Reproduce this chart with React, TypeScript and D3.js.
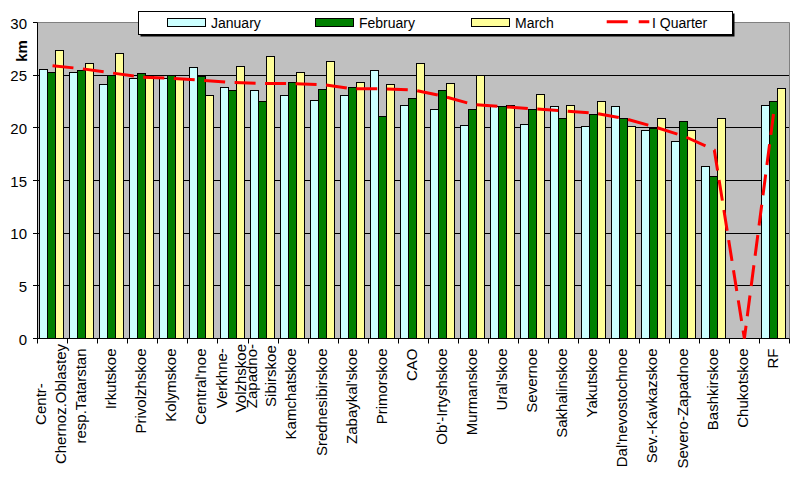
import React, { useEffect, useRef } from "react";
import * as d3 from "d3";

const categories = [
  "Centr-\nChernoz.Oblastey", "resp.Tatarstan", "Irkutskoe", "Privolzhskoe", "Kolymskoe",
  "Central'noe", "Verkhne-\nVolzhskoe", "Zapadno-\nSibirskoe", "Kamchatskoe", "Srednesibirskoe",
  "Zabaykal'skoe", "Primorskoe", "CAO", "Ob'-Irtyshskoe", "Murmanskoe",
  "Ural'skoe", "Severnoe", "Sakhalinskoe", "Yakutskoe", "Dal'nevostochnoe",
  "Sev.-Kavkazskoe", "Severo-Zapadnoe", "Bashkirskoe", "Chukotskoe", "RF",
];
const january = [25.5, 25.3, 24.1, 24.7, 24.7, 25.7, 23.8, 23.5, 23.1, 22.6, 23.1, 25.4, 22.1, 21.7, 20.2, 22.0, 20.3, 22.0, 20.1, 22.0, 19.7, 18.7, 16.3, 0, 22.1];
const february = [25.3, 25.4, 25.0, 25.2, 25.0, 24.9, 23.5, 22.5, 24.3, 23.6, 23.8, 21.1, 22.8, 23.5, 21.7, 22.0, 21.7, 20.9, 21.3, 20.9, 19.9, 20.6, 15.4, 0, 22.5];
const march = [27.3, 26.1, 27.1, 24.9, 24.6, 23.1, 25.8, 26.8, 25.3, 26.3, 24.3, 24.1, 26.1, 24.2, 25.0, 22.1, 23.2, 22.1, 22.5, 20.1, 20.9, 19.7, 20.9, 0, 23.7];
const quarter = [25.9, 25.6, 25.2, 24.8, 24.7, 24.5, 24.3, 24.2, 24.2, 24.1, 23.7, 23.7, 23.6, 23.0, 22.2, 22.0, 21.8, 21.6, 21.4, 20.9, 20.1, 19.2, 17.9, 0, 22.0];
const yTicks = [0, 5, 10, 15, 20, 25, 30];
const barSeriesNames = ["January", "February", "March"];
const lineSeriesName = "I Quarter";
const barColors = ["#CCFFFF", "#008000", "#FFFF99"];
const lineColor = "#FF0000";
const yTitle = "km";

export default function App() {
  const ref = useRef<SVGSVGElement>(null);
  useEffect(() => {
    const svg = d3.select(ref.current);
    svg.selectAll("*").remove();
    const W = 792, H = 480;
    const left = 37.5, right = 789.5, top = 22.5, bottom = 338.5;
    const font = "Arial, 'Liberation Sans', sans-serif";
    const x = d3.scaleBand<string>().domain(categories).range([left, right]).padding(0);
    const y = d3.scaleLinear().domain([0, 30]).range([bottom, top]);
    const crisp = (v: number) => Math.floor(v) + 0.5;

    svg.append("rect").attr("width", W).attr("height", H).attr("fill", "#fff");
    svg.append("rect").attr("x", left).attr("y", top).attr("width", right - left)
      .attr("height", bottom - top).attr("fill", "#C0C0C0");

    // gridlines
    yTicks.filter((t) => t > 0 && t < 30).forEach((t) => {
      svg.append("line").attr("x1", left).attr("x2", right)
        .attr("y1", crisp(y(t))).attr("y2", crisp(y(t)))
        .attr("stroke", "#000").attr("stroke-width", 1);
    });
    // plot border top/right
    svg.append("path").attr("d", `M${left},${top}H${right}V${bottom}`)
      .attr("fill", "none").attr("stroke", "#808080").attr("stroke-width", 1);

    // bars
    const series = [january, february, march];
    series.forEach((vals, si) => {
      categories.forEach((c, i) => {
        const v = vals[i];
        if (!v) return;
        const bx = Math.round((x(c) as number) + 1.6 + si * 8) + 0.5;
        const by = crisp(y(v));
        svg.append("rect").attr("x", bx).attr("y", by).attr("width", 8)
          .attr("height", bottom - by).attr("fill", barColors[si])
          .attr("stroke", "#000").attr("stroke-width", 1);
      });
    });

    // axes
    svg.append("line").attr("x1", left).attr("x2", left).attr("y1", top).attr("y2", bottom)
      .attr("stroke", "#000");
    svg.append("line").attr("x1", left).attr("x2", right).attr("y1", bottom).attr("y2", bottom)
      .attr("stroke", "#000");
    yTicks.forEach((t) => {
      svg.append("line").attr("x1", 33).attr("x2", left).attr("y1", crisp(y(t))).attr("y2", crisp(y(t)))
        .attr("stroke", "#000");
      svg.append("text").attr("x", 27).attr("y", y(t)).attr("dy", "0.4em")
        .attr("text-anchor", "end").attr("font-family", font).attr("font-size", 15)
        .attr("fill", "#000").text(String(t));
    });
    const bounds = categories.map((c) => x(c) as number).concat([right]);
    bounds.forEach((b) => {
      const bx = crisp(b);
      svg.append("line").attr("x1", bx).attr("x2", bx).attr("y1", bottom).attr("y2", 343.5)
        .attr("stroke", "#000");
    });

    // y title
    svg.append("text").attr("transform", `translate(26.7,51) rotate(-90)`)
      .attr("text-anchor", "middle").attr("font-family", font).attr("font-size", 15)
      .attr("font-weight", "bold").attr("fill", "#000").text(yTitle);

    // x labels
    categories.forEach((c) => {
      const cx = (x(c) as number) + x.bandwidth() / 2;
      const lines = c.split("\n");
      if (lines.length === 1) {
        svg.append("text").attr("transform", `translate(${cx},348.5) rotate(-90)`)
          .attr("y", 3.3).attr("text-anchor", "end").attr("font-family", font)
          .attr("font-size", 15).attr("fill", "#000").text(lines[0]);
      } else {
        const g = svg.append("g").attr("transform", `translate(${cx},344) rotate(-90)`);
        const texts = lines.map((l, li) =>
          g.append("text").attr("y", 3.3 + (li - (lines.length - 1) / 2) * 19.5)
            .attr("text-anchor", "middle").attr("font-family", font)
            .attr("font-size", 15).attr("fill", "#000").text(l));
        const maxW = d3.max(texts, (t) => (t.node() as SVGTextElement).getComputedTextLength()) || 0;
        texts.forEach((t) => t.attr("x", -maxW / 2));
      }
    });

    // line series
    const line = d3.line<number>()
      .x((_, i) => (x(categories[i]) as number) + x.bandwidth() / 2)
      .y((d) => y(d));
    svg.append("path").attr("d", line(quarter) as string).attr("fill", "none")
      .attr("stroke", lineColor).attr("stroke-width", 3).attr("stroke-dasharray", "21 9.5");

    // legend
    const lg = svg.append("g");
    lg.append("rect").attr("x", 140.5).attr("y", 13.5).attr("width", 594).attr("height", 23)
      .attr("fill", "#000");
    lg.append("rect").attr("x", 138.5).attr("y", 11.5).attr("width", 594).attr("height", 23)
      .attr("fill", "#fff").attr("stroke", "#000").attr("stroke-width", 1);
    const swX = [167.5, 315.5, 471.5];
    barSeriesNames.forEach((n, i) => {
      lg.append("rect").attr("x", swX[i]).attr("y", 18.5).attr("width", 38).attr("height", 8)
        .attr("fill", barColors[i]).attr("stroke", "#000").attr("stroke-width", 1);
      lg.append("text").attr("x", swX[i] + 43.5).attr("y", 27.5).attr("font-family", font)
        .attr("font-size", 14).attr("fill", "#000").text(n);
    });
    lg.append("line").attr("x1", 606.7).attr("x2", 649.3).attr("y1", 21.7).attr("y2", 21.7)
      .attr("stroke", lineColor).attr("stroke-width", 3).attr("stroke-dasharray", "21 11");
    lg.append("text").attr("x", 652).attr("y", 27.5).attr("font-family", font)
      .attr("font-size", 14).attr("fill", "#000").text(lineSeriesName);
  }, []);
  return (
    <svg ref={ref} width={792} height={480}
      style={{ position: "absolute", left: 0, top: 0, display: "block" }} />
  );
}
